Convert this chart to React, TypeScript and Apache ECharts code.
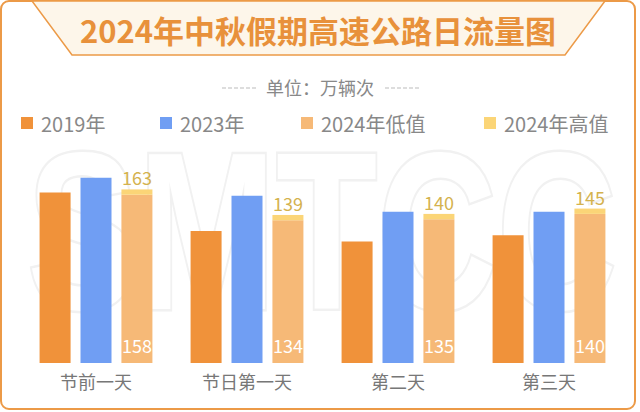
import React, { useEffect, useRef } from "react";
import * as echarts from "echarts";

const categories = ["节前一天", "节日第一天", "第二天", "第三天"];
const v2019 = [160, 124, 114, 120];
const v2023 = [174, 157, 142, 142];
const v2024Low = [158, 134, 135, 140];
const v2024High = [163, 139, 140, 145];
const seriesNames = ["2019年", "2023年", "2024年低值", "2024年高值"];
const colors = ["#f0923a", "#709ef3", "#f6b977", "#fbd577"];

const FONT = "'Noto Sans CJK SC', 'Noto Sans', sans-serif";

export default function App() {
  const ref = useRef<HTMLDivElement>(null);
  useEffect(() => {
    if (!ref.current) return;
    const chart = echarts.init(ref.current, undefined, { renderer: "svg" });
    const legendLefts = [21, 160, 301, 484];
    chart.setOption({
      animation: false,
      backgroundColor: "#ffffff",
      textStyle: { fontFamily: FONT },
      graphic: [
        {
          type: "rect",
          z: -10,
          shape: { x: 1, y: 1, width: 634, height: 408, r: 8 },
          style: { fill: "#ffffff", stroke: "#ec9a47", lineWidth: 2 },
        },
        {
          type: "text",
          z: -5,
          x: 322,
          y: 232,
          scaleX: 0.74,
          style: {
            text: "SMTCC",
            font: "bold 224px 'Liberation Sans', Arial, sans-serif",
            fill: "#ffffff",
            stroke: "#f1f1f1",
            lineWidth: 5,
            align: "center",
            verticalAlign: "middle",
          },
        },
        {
          type: "polygon",
          z: 5,
          shape: { points: [[32, 1], [605, 1], [565, 55], [72, 55]] },
          style: { fill: "#fdf6ea", stroke: "#ec9a47", lineWidth: 1.5 },
        },
        {
          type: "text",
          z: 6,
          x: 318,
          y: 29,
          style: {
            text: "2024年中秋假期高速公路日流量图",
            font: "bold 31px " + FONT,
            fill: "#e8913b",
            align: "center",
            verticalAlign: "middle",
          },
        },
        {
          type: "line",
          z: 6,
          shape: { x1: 222, y1: 88, x2: 257, y2: 88 },
          style: { stroke: "#bbbbbb", lineWidth: 1, lineDash: [4, 2] },
        },
        {
          type: "line",
          z: 6,
          shape: { x1: 385, y1: 88, x2: 420, y2: 88 },
          style: { stroke: "#bbbbbb", lineWidth: 1, lineDash: [4, 2] },
        },
        {
          type: "text",
          z: 6,
          x: 320,
          y: 87,
          style: {
            text: "单位：万辆次",
            font: "18px " + FONT,
            fill: "#888888",
            align: "center",
            verticalAlign: "middle",
          },
        },
      ],
      legend: seriesNames.map((n, i) => ({
        data: [n],
        left: legendLefts[i],
        top: 113,
        padding: 0,
        icon: "rect",
        itemWidth: 12,
        itemHeight: 12,
        itemGap: 0,
        textStyle: { fontSize: 20, color: "#888888", fontFamily: FONT, padding: [0, 0, 0, 3] },
      })),
      grid: { left: 20.5, right: 15.5, top: 150, bottom: 49 },
      xAxis: {
        type: "category",
        data: categories,
        axisLine: { show: false },
        axisTick: { show: false },
        axisLabel: { fontSize: 18, color: "#777777", margin: 9, fontFamily: FONT },
      },
      yAxis: {
        type: "value",
        min: 0,
        max: 200,
        show: false,
        splitLine: { show: false },
      },
      series: [
        {
          name: seriesNames[0],
          type: "bar",
          data: v2019,
          barWidth: 31,
          barGap: "32%",
          itemStyle: { color: colors[0] },
        },
        {
          name: seriesNames[1],
          type: "bar",
          data: v2023,
          barWidth: 31,
          barGap: "32%",
          itemStyle: { color: colors[1] },
        },
        {
          name: seriesNames[2],
          type: "bar",
          stack: "y2024",
          data: v2024Low,
          barWidth: 31,
          barGap: "32%",
          itemStyle: { color: colors[2] },
          label: {
            show: true,
            position: "insideBottom",
            distance: 9,
            color: "#ffffff",
            fontSize: 18,
            fontFamily: FONT,
          },
        },
        {
          name: seriesNames[3],
          type: "bar",
          stack: "y2024",
          data: v2024High.map((h, i) => h - v2024Low[i]),
          barWidth: 31,
          barGap: "32%",
          itemStyle: { color: colors[3] },
          label: {
            show: true,
            position: "top",
            distance: 3,
            color: "#d4b24e",
            fontSize: 18,
            fontFamily: FONT,
            formatter: (p: any) => String(v2024High[p.dataIndex]),
          },
        },
      ],
    });
    return () => chart.dispose();
  }, []);
  return (
    <div
      ref={ref}
      style={{ position: "fixed", left: 0, top: 0, width: 640, height: 412 }}
    />
  );
}
